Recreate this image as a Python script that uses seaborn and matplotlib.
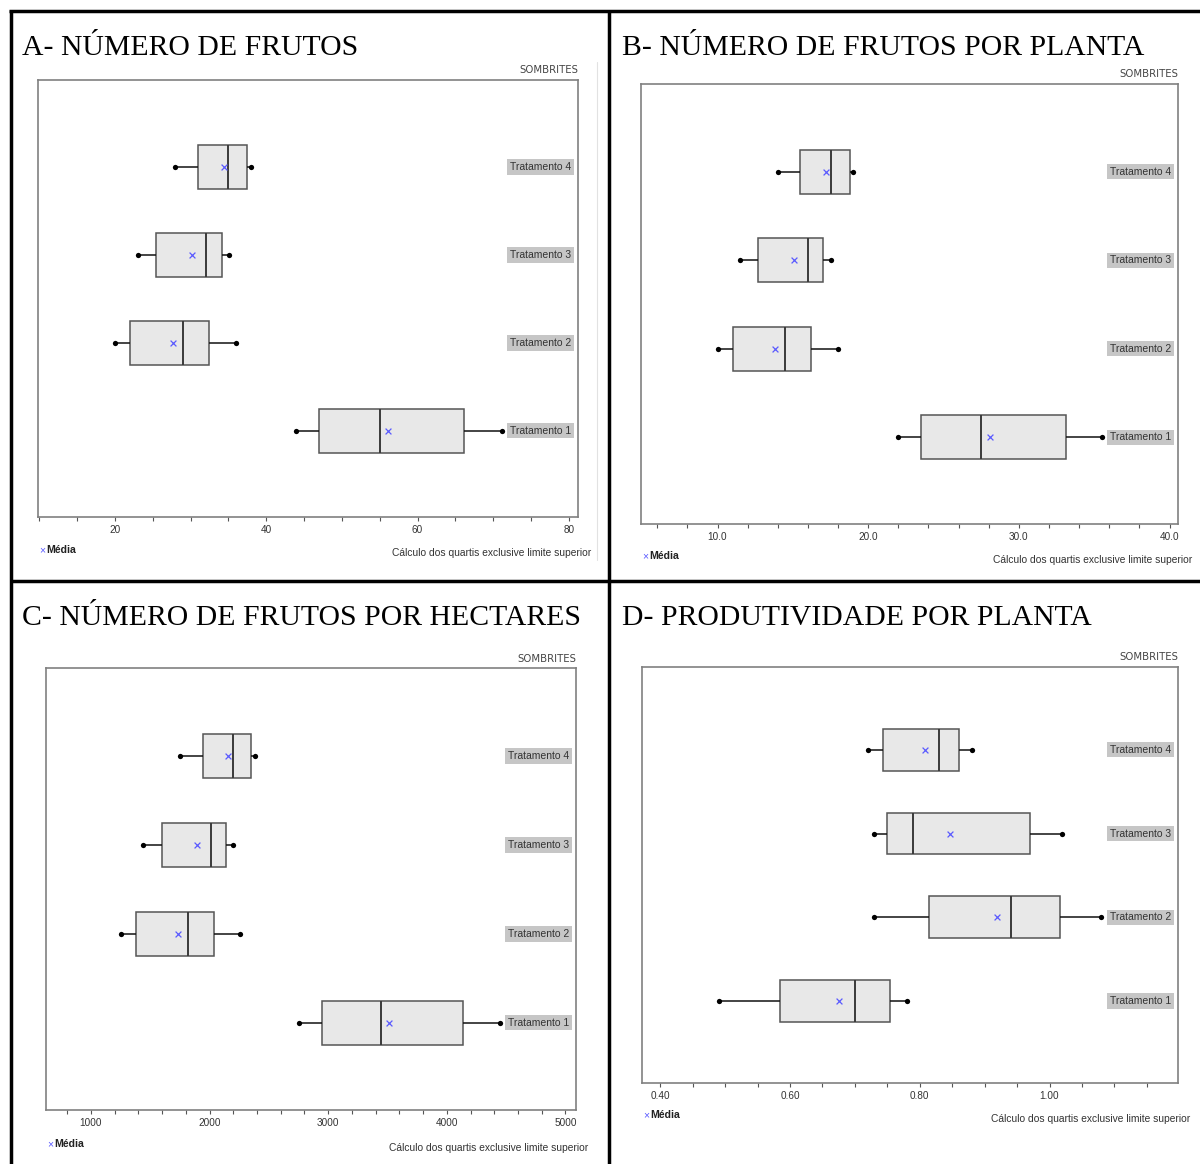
import pandas as pd
import matplotlib.pyplot as plt
import matplotlib.transforms as mtransforms
from matplotlib.lines import Line2D
from matplotlib.ticker import FixedLocator, FuncFormatter
import seaborn as sns

# Estatísticas (ordem: Tratamento 1, 2, 3, 4)
tratamentos = ['Tratamento 1', 'Tratamento 2', 'Tratamento 3', 'Tratamento 4']
ordem = tratamentos[::-1]

# A- Número de frutos
a_min = [44.0, 20.0, 23.0, 28.0]
a_q1 = [47.0, 22.0, 25.5, 31.0]
a_med = [55.1, 29.0, 32.0, 35.0]
a_q3 = [66.1, 32.5, 34.1, 37.5]
a_max = [71.2, 36.0, 35.1, 38.0]
a_media = [56.1, 27.7, 30.2, 34.4]

# B- Número de frutos por planta
b_min = [22.0, 10.0, 11.5, 14.0]
b_q1 = [23.5, 11.0, 12.7, 15.5]
b_med = [27.5, 14.5, 16.0, 17.5]
b_q3 = [33.1, 16.2, 17.0, 18.8]
b_max = [35.5, 18.0, 17.5, 19.0]
b_media = [28.1, 13.8, 15.1, 17.2]

# C- Número de frutos por hectares
c_min = [2755, 1253, 1440, 1752]
c_q1 = [2946, 1378, 1598, 1942]
c_med = [3441, 1821, 2008, 2195]
c_q3 = [4137, 2040, 2136, 2352]
c_max = [4449, 2260, 2195, 2382]
c_media = [3513, 1732, 1896, 2155]

# D- Produtividade por planta
d_min = [0.49, 0.73, 0.73, 0.72]
d_q1 = [0.585, 0.815, 0.749, 0.744]
d_med = [0.700, 0.940, 0.789, 0.830]
d_q3 = [0.754, 1.016, 0.970, 0.860]
d_max = [0.780, 1.080, 1.020, 0.880]
d_media = [0.676, 0.919, 0.846, 0.808]

sns.set_style('white')
plt.rcParams['font.family'] = ['Liberation Sans', 'DejaVu Sans']

W, H = 1200, 1164
fig = plt.figure(figsize=(W / 100, H / 100), dpi=100)


def ftext(x, y, s, **kw):
    fig.text(x / W, 1 - y / H, s, **kw)


def fline(xs, ys, **kw):
    fig.add_artist(Line2D([x / W for x in xs], [1 - y / H for y in ys],
                          transform=fig.transFigure, **kw))


def tabela(mins, q1s, meds, q3s, maxs):
    linhas = []
    for t, vals in zip(tratamentos, zip(mins, q1s, meds, q3s, maxs)):
        for v in vals:
            linhas.append({'tratamento': t, 'valor': v})
    return pd.DataFrame(linhas)


def painel(caixa, stats, medias, xlim, major, minor, fmt, titulo, tit_xy,
           somb_y, media_y, calc_xy):
    l, t, r, b = caixa
    ax = fig.add_axes([l / W, 1 - b / H, (r - l) / W, (b - t) / H])
    df = tabela(*stats)
    sns.boxplot(data=df, x='valor', y='tratamento', order=ordem, orient='h',
                whis=(0, 100), width=0.5, color='#e8e8e8', saturation=1,
                linecolor='#555555', linewidth=1.1, showcaps=False,
                fliersize=0, ax=ax,
                whiskerprops=dict(color='#111111', linewidth=1.1),
                medianprops=dict(color='#3a3a3a', linewidth=1.4))
    # pontos nas pontas dos bigodes
    ext = pd.DataFrame({'tratamento': tratamentos * 2,
                        'valor': list(stats[0]) + list(stats[4])})
    sns.stripplot(data=ext, x='valor', y='tratamento', order=ordem,
                  jitter=False, color='black', size=3.8, ax=ax, zorder=5)
    med = pd.DataFrame({'tratamento': tratamentos, 'valor': medias})
    sns.stripplot(data=med, x='valor', y='tratamento', order=ordem,
                  jitter=False, color='#5a5aff', marker='x', size=4.2,
                  linewidth=0.9, ax=ax, zorder=6)
    ax.set_xlim(*xlim)
    ax.set_ylim(3.98, -0.99)
    ax.set_xlabel('')
    ax.set_ylabel('')
    ax.set_yticks([])
    ax.xaxis.set_major_locator(FixedLocator(major))
    ax.xaxis.set_minor_locator(FixedLocator(minor))
    ax.xaxis.set_major_formatter(FuncFormatter(lambda v, p: fmt.format(v)))
    ax.tick_params(axis='x', which='both', direction='out', length=3,
                   width=0.8, color='#555555', labelsize=7.2,
                   labelcolor='#333333', pad=3, bottom=True)
    for s in ax.spines.values():
        s.set_color('#808080')
        s.set_linewidth(1.2)
    # rótulos dos tratamentos dentro do gráfico
    trans = mtransforms.blended_transform_factory(ax.transAxes, ax.transData)
    for i, nome in enumerate(ordem):
        ax.text(1 - 7 / (r - l), i, nome, transform=trans, ha='right',
                va='center', fontsize=7.5, color='#333333', zorder=7,
                bbox=dict(boxstyle='square,pad=0.25', facecolor='#c6c6c6',
                          edgecolor='none'))
    ftext(tit_xy[0], tit_xy[1], titulo, fontsize=21.4, va='baseline',
          family=['Liberation Serif', 'DejaVu Serif'], color='black')
    ftext(r, somb_y, 'SOMBRITES', fontsize=7.3, ha='right', va='center',
          family=['DejaVu Sans'], color='#444444')
    ftext(l + 1, media_y, '×', fontsize=7.5, va='center', color='#5a5aff')
    ftext(l + 8, media_y, 'Média', fontsize=7.6, va='center',
          fontweight='bold', color='#222222')
    ftext(calc_xy[0], calc_xy[1], 'Cálculo dos quartis exclusive limite superior',
          fontsize=7.4, ha='right', va='center', color='#333333')
    return ax


painel((38, 80, 578, 517), (a_min, a_q1, a_med, a_q3, a_max), a_media,
       (9.85, 81.2), [20, 40, 60, 80], list(range(10, 81, 5)), '{:.0f}',
       'A- NÚMERO DE FRUTOS', (22, 55), 70, 550, (591, 553))

painel((641, 84, 1178, 524), (b_min, b_q1, b_med, b_q3, b_max), b_media,
       (4.92, 40.56), [10, 20, 30, 40], list(range(6, 41, 2)), '{:.1f}',
       'B- NÚMERO DE FRUTOS POR PLANTA', (622, 55), 74, 556, (1192, 560))

painel((46, 668, 576, 1110), (c_min, c_q1, c_med, c_q3, c_max), c_media,
       (621, 5089), [1000, 2000, 3000, 4000, 5000], list(range(800, 5001, 200)),
       '{:.0f}', 'C- NÚMERO DE FRUTOS POR HECTARES', (22, 625), 659, 1144,
       (588, 1148))

painel((642, 667, 1178, 1083), (d_min, d_q1, d_med, d_q3, d_max), d_media,
       (0.372, 1.198), [0.4, 0.6, 0.8, 1.0],
       [0.4 + 0.05 * k for k in range(16)], '{:.2f}',
       'D- PRODUTIVIDADE POR PLANTA', (622, 625), 657, 1115, (1190, 1119))

# linhas da tabela
borda = dict(color='black', linewidth=2.5, solid_capstyle='butt')
fline([9, 1200], [11, 11], **borda)
fline([11, 11], [10, 1164], **borda)
fline([609, 609], [10, 1164], **borda)
fline([10, 1200], [581, 581], **borda)
fline([597, 597], [62, 560], color='#e2e2e2', linewidth=0.8)

fig.savefig('out.png', dpi=100, facecolor='white')
